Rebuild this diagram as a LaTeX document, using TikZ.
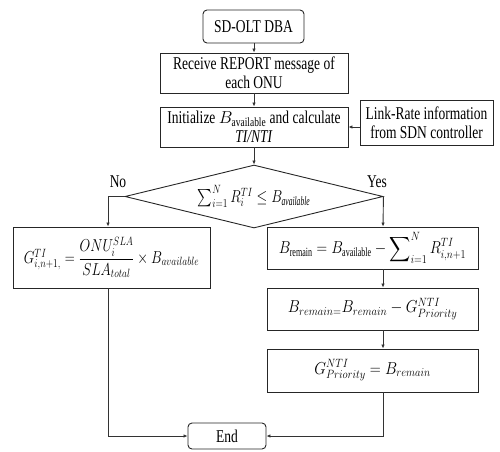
\documentclass[tikz,border=0pt]{standalone}
\usepackage{fontspec}
\usepackage{amsmath}
\usepackage{graphicx}
\setmainfont{Liberation Serif}[FakeStretch=0.75]
\usetikzlibrary{shapes.geometric,arrows.meta}
% narrow the formulas like the text face
\newcommand{\sqz}[2][0.82]{\scalebox{#1}[1]{#2}}

\begin{document}
\begin{tikzpicture}[x=1pt,y=-1pt,
  box/.style={draw=black!85,line width=0.9pt,inner sep=1pt,align=center,
    font=\fontsize{18}{19}\selectfont},
  rbox/.style={box,rounded corners=4pt},
  dia/.style={draw=black!85,line width=0.9pt,diamond,aspect=4.1,inner sep=0pt,
    minimum width=258pt,minimum height=63pt,font=\fontsize{18}{19}\selectfont},
  arr/.style={draw=black!80,line width=0.9pt,-{Latex[length=4pt,width=3.5pt]}},
  lbl/.style={font=\fontsize{18}{19}\selectfont}]
\useasboundingbox (0,0) rectangle (500,451);

% process chain
\node[rbox,minimum width=101pt,minimum height=33pt] (start) at (253.5,26.5) {SD-OLT DBA};
\node[box,minimum width=188pt,minimum height=40pt] (recv) at (254,73)
  {Receive REPORT message of\\each ONU};
\node[box,minimum width=188pt,minimum height=40pt] (init) at (254,127)
  {Initialize $B_{\text{available}}$ and calculate\\\textit{TI/NTI}};
\node[box,minimum width=133pt,minimum height=45pt] (link) at (426.5,122.5)
  {Link-Rate information\\from SDN controller};
\node[dia] (cond) at (254,196.5)
  {\sqz[0.8]{$\sum_{i=1}^{N} R_i^{TI} \le B_{\textit{available}}$}};

% left branch
\node[box,minimum width=197pt,minimum height=61pt] (gti) at (111.5,257.5)
  {\sqz[0.8]{$G^{TI}_{i,n+1,} = \dfrac{ONU_i^{SLA}}{SLA_{total}} \times B_{available}$}};

% right branch
\node[box,minimum width=211pt,minimum height=42pt] (rem1) at (372.5,248)
  {\sqz[0.85]{$B_{\text{remain}} = B_{\text{available}} - \displaystyle\sum\nolimits_{i=1}^{N} R_{i,n+1}^{TI}$}};
\node[box,minimum width=211pt,minimum height=42pt] (rem2) at (372.5,309)
  {\sqz[0.88]{$B_{remain=}B_{remain} - G^{NTI}_{Priority}$}};
\node[box,minimum width=211pt,minimum height=43pt] (prio) at (372.5,370.5)
  {\sqz[0.88]{$G^{NTI}_{Priority} = B_{remain}$}};

\node[rbox,minimum width=78pt,minimum height=26pt] (end) at (227,436) {End};

% guide lines for the two branches
\coordinate (lx) at (108,0);
\coordinate (rx) at (383,0);

% connectors
\draw[arr] (start.south -| recv) -- (recv.north);
\draw[arr] (recv) -- (init);
\draw[arr] (link.west |- init.east) -- (init.east);
\draw[arr] (init) -- (cond);
\draw[arr] (cond.west) -| (gti.north -| lx);
\draw[arr] (cond.east) -- (rem1.north -| rx);
\draw[arr] (rem1.south -| rx) -- (rem2.north -| rx);
\draw[arr] (rem2.south -| rx) -- (prio.north -| rx);
\draw[arr] (gti.south -| lx) |- (end.west);
\draw[arr] (prio.south -| rx) |- (end.east);

% branch labels
\node[lbl] (no) at (118,182) {No};
\node[lbl] (yes) at (377,182) {Yes};
\end{tikzpicture}
\end{document}
